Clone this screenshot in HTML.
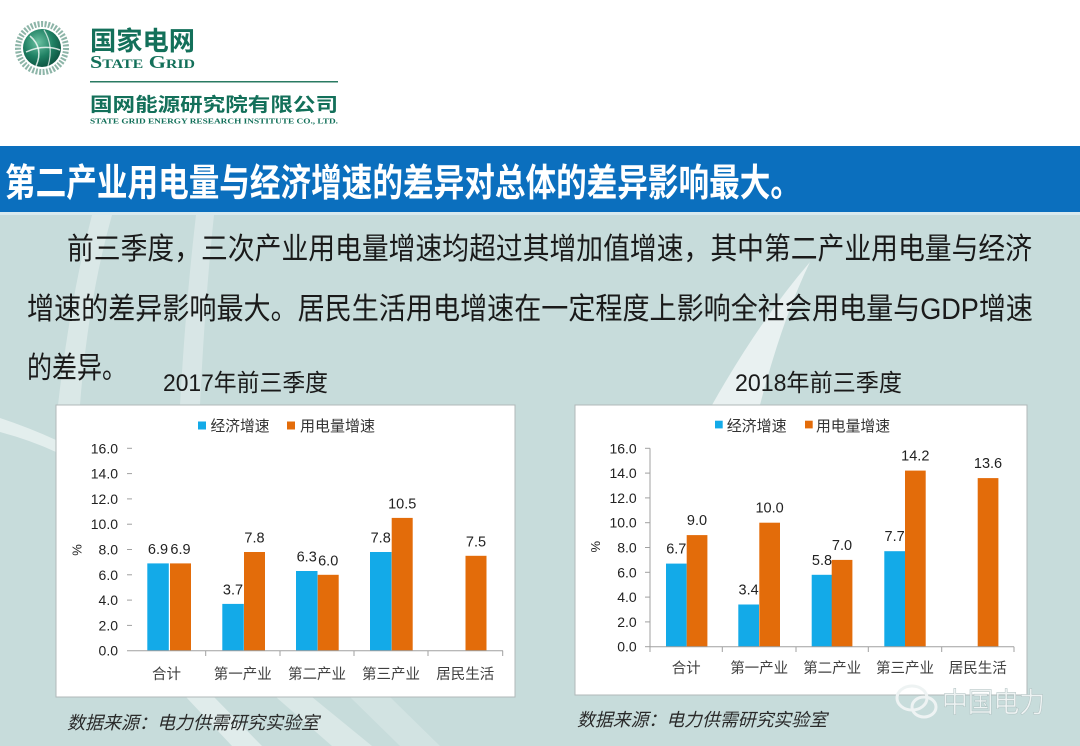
<!DOCTYPE html>
<html><head><meta charset="utf-8">
<style>
html,body{margin:0;padding:0;width:1080px;height:746px;overflow:hidden;background:#fff}
svg{display:block}
</style></head>
<body>
<svg width="1080" height="746" viewBox="0 0 1080 746" xmlns="http://www.w3.org/2000/svg" font-family="'Liberation Sans','Noto Sans CJK SC',sans-serif">
<defs>
<radialGradient id="gl" cx="40%" cy="35%" r="70%"><stop offset="0" stop-color="#6cc2a2"/><stop offset="0.55" stop-color="#1f8063"/><stop offset="1" stop-color="#0c513f"/></radialGradient>
</defs>

<!-- backgrounds -->
<rect width="1080" height="146" fill="#ffffff"/>
<rect y="146" width="1080" height="600" fill="#c7dcdb"/>
<!-- streaks -->
<path d="M92,215 Q70,300 58,405 L80,405 Q88,300 112,215 Z" fill="#fff" opacity="0.35"/>
<path d="M196,215 Q186,300 180,405 L200,405 Q205,300 214,215 Z" fill="#fff" opacity="0.3"/>
<path d="M810,262 Q760,320 712,405 L760,405 Q782,320 810,262 Z" fill="#fff" opacity="0.6"/>
<path d="M0,418 Q30,428 56,440 L56,452 Q30,440 0,432 Z" fill="#fff" opacity="0.5"/>
<path d="M186,697 L232,746 L262,746 L214,697 Z" fill="#fff" opacity="0.45"/>
<path d="M276,697 L332,746 L372,746 L312,697 Z" fill="#fff" opacity="0.35"/>
<path d="M350,697 L400,746 L440,746 L390,697 Z" fill="#fff" opacity="0.2"/>

<!-- title bar -->
<rect y="146" width="1080" height="66" fill="#0b6fbe"/>
<rect y="212" width="1080" height="3" fill="#d9eaee"/>
<text x="5" y="196" font-size="38" font-weight="bold" fill="#ffffff" textLength="796" lengthAdjust="spacingAndGlyphs">第二产业用电量与经济增速的差异对总体的差异影响最大。</text>

<!-- logo -->
<circle cx="42" cy="48" r="24" fill="none" stroke="#8db5a8" stroke-width="6" stroke-dasharray="2 1.5"/>
<circle cx="42" cy="48" r="19" fill="url(#gl)"/>
<path d="M30,36 Q44,48 36,66" fill="none" stroke="#fff" stroke-width="1.5" opacity="0.8"/>
<path d="M26,52 Q44,44 60,50" fill="none" stroke="#fff" stroke-width="1.5" opacity="0.8"/>
<path d="M44,30 Q54,46 48,66" fill="none" stroke="#fff" stroke-width="1.2" opacity="0.7"/>
<text x="90" y="50" font-size="26" font-weight="bold" fill="#13705a" textLength="105" lengthAdjust="spacingAndGlyphs">国家电网</text>
<text x="90" y="68" font-family="'Liberation Serif',serif" font-size="18" font-weight="bold" fill="#13705a" style="font-variant:small-caps" textLength="105" lengthAdjust="spacingAndGlyphs">State Grid</text>
<rect x="90" y="81" width="248" height="1.5" fill="#2a7a62"/>
<text x="90" y="111" font-size="19" font-weight="bold" fill="#13705a" textLength="248" lengthAdjust="spacingAndGlyphs">国网能源研究院有限公司</text>
<text x="90" y="123.5" font-family="'Liberation Serif',serif" font-size="7.5" font-weight="bold" fill="#13705a" textLength="248" lengthAdjust="spacingAndGlyphs">STATE GRID ENERGY RESEARCH INSTITUTE CO., LTD.</text>

<!-- paragraph -->
<g font-size="30" fill="#1a1a1a">
<text x="67" y="259" textLength="965" lengthAdjust="spacingAndGlyphs">前三季度，三次产业用电量增速均超过其增加值增速，其中第二产业用电量与经济</text>
<text x="27" y="319" textLength="1006" lengthAdjust="spacingAndGlyphs">增速的差异影响最大。居民生活用电增速在一定程度上影响全社会用电量与GDP增速</text>
<text x="27" y="378" textLength="100" lengthAdjust="spacingAndGlyphs">的差异。</text>
</g>

<!-- chart titles -->
<text x="163" y="391" font-size="24" fill="#1a1a1a" textLength="165" lengthAdjust="spacingAndGlyphs">2017年前三季度</text>
<text x="735" y="391" font-size="24" fill="#1a1a1a" textLength="167" lengthAdjust="spacingAndGlyphs">2018年前三季度</text>

<!-- ============ CHART 1 ============ -->
<rect x="56" y="405" width="459" height="292" fill="#ffffff" stroke="#b0b8b8" stroke-width="1"/>
<!-- legend -->
<rect x="198" y="421.5" width="8" height="8" fill="#13aae8"/>
<text x="210.5" y="431" font-size="15" fill="#333" textLength="59" lengthAdjust="spacingAndGlyphs">经济增速</text>
<rect x="287" y="421.5" width="8" height="8" fill="#e36c0a"/>
<text x="300" y="431" font-size="15" fill="#333" textLength="75" lengthAdjust="spacingAndGlyphs">用电量增速</text>
<!-- y ticks -->
<g font-size="14" fill="#222" text-anchor="end">
<text x="118" y="655.7">0.0</text>
<text x="118" y="630.4">2.0</text>
<text x="118" y="605.1">4.0</text>
<text x="118" y="579.8">6.0</text>
<text x="118" y="554.5">8.0</text>
<text x="118" y="529.2">10.0</text>
<text x="118" y="503.9">12.0</text>
<text x="118" y="478.6">14.0</text>
<text x="118" y="453.3">16.0</text>
</g>
<g stroke="#a0a0a0" stroke-width="1">
<line x1="127" y1="625.4" x2="132" y2="625.4"/>
<line x1="127" y1="600.1" x2="132" y2="600.1"/>
<line x1="127" y1="574.8" x2="132" y2="574.8"/>
<line x1="127" y1="549.5" x2="132" y2="549.5"/>
<line x1="127" y1="524.2" x2="132" y2="524.2"/>
<line x1="127" y1="498.9" x2="132" y2="498.9"/>
<line x1="127" y1="473.6" x2="132" y2="473.6"/>
<line x1="127" y1="448.3" x2="132" y2="448.3"/>
</g>
<text transform="translate(78,550) rotate(-90)" font-size="13" fill="#222" text-anchor="middle" dominant-baseline="middle">%</text>
<!-- bars -->
<g fill="#13aae8">
<rect x="147.3" y="563.4" width="21.5" height="87.3"/>
<rect x="222.3" y="603.9" width="21.5" height="46.8"/>
<rect x="296" y="571.0" width="21.5" height="79.7"/>
<rect x="370" y="552.0" width="21.5" height="98.7"/>
</g>
<g fill="#e36c0a">
<rect x="170" y="563.4" width="21" height="87.3"/>
<rect x="244" y="552.0" width="21" height="98.7"/>
<rect x="317.7" y="574.8" width="21" height="75.9"/>
<rect x="391.7" y="517.9" width="21" height="132.8"/>
<rect x="465.5" y="555.8" width="21" height="94.9"/>
</g>
<!-- x axis -->
<line x1="127" y1="650.7" x2="503" y2="650.7" stroke="#a0a0a0" stroke-width="1"/>
<g stroke="#a0a0a0" stroke-width="1">
<line x1="205.7" y1="650.7" x2="205.7" y2="656"/>
<line x1="280" y1="650.7" x2="280" y2="656"/>
<line x1="354" y1="650.7" x2="354" y2="656"/>
<line x1="428" y1="650.7" x2="428" y2="656"/>
<line x1="502.7" y1="650.7" x2="502.7" y2="656"/>
</g>
<!-- data labels -->
<g font-size="14.5" fill="#222" text-anchor="middle">
<text x="158" y="554">6.9</text>
<text x="180.5" y="554">6.9</text>
<text x="233" y="594.4">3.7</text>
<text x="254.5" y="542.5">7.8</text>
<text x="306.7" y="561.5">6.3</text>
<text x="328.2" y="565.3">6.0</text>
<text x="380.7" y="542.5">7.8</text>
<text x="402.2" y="508.4">10.5</text>
<text x="476" y="546.3">7.5</text>
</g>
<!-- category labels -->
<g font-size="14.5" fill="#404040" text-anchor="middle">
<text x="166.5" y="679">合计</text>
<text x="242.8" y="679">第一产业</text>
<text x="317" y="679">第二产业</text>
<text x="391" y="679">第三产业</text>
<text x="465.3" y="679">居民生活</text>
</g>

<!-- ============ CHART 2 ============ -->
<rect x="575" y="405" width="452" height="290" fill="#ffffff" stroke="#b0b8b8" stroke-width="1"/>
<rect x="715" y="420.7" width="7.7" height="7.7" fill="#13aae8"/>
<text x="726.7" y="431" font-size="15" fill="#333" textLength="60" lengthAdjust="spacingAndGlyphs">经济增速</text>
<rect x="805" y="420.7" width="7.7" height="7.7" fill="#e36c0a"/>
<text x="816" y="431" font-size="15" fill="#333" textLength="74" lengthAdjust="spacingAndGlyphs">用电量增速</text>
<g font-size="14" fill="#222" text-anchor="end">
<text x="636.7" y="651.7">0.0</text>
<text x="636.7" y="626.9">2.0</text>
<text x="636.7" y="602.1">4.0</text>
<text x="636.7" y="577.3">6.0</text>
<text x="636.7" y="552.5">8.0</text>
<text x="636.7" y="527.7">10.0</text>
<text x="636.7" y="502.9">12.0</text>
<text x="636.7" y="478.1">14.0</text>
<text x="636.7" y="453.3">16.0</text>
</g>
<g stroke="#a0a0a0" stroke-width="1">
<line x1="650" y1="448.3" x2="650" y2="652"/>
<line x1="645" y1="646.7" x2="650" y2="646.7"/>
<line x1="645" y1="621.9" x2="650" y2="621.9"/>
<line x1="645" y1="597.1" x2="650" y2="597.1"/>
<line x1="645" y1="572.3" x2="650" y2="572.3"/>
<line x1="645" y1="547.5" x2="650" y2="547.5"/>
<line x1="645" y1="522.7" x2="650" y2="522.7"/>
<line x1="645" y1="497.9" x2="650" y2="497.9"/>
<line x1="645" y1="473.1" x2="650" y2="473.1"/>
<line x1="645" y1="448.3" x2="650" y2="448.3"/>
</g>
<text transform="translate(596.7,546.7) rotate(-90)" font-size="13" fill="#222" text-anchor="middle" dominant-baseline="middle">%</text>
<g fill="#13aae8">
<rect x="666" y="563.6" width="20.7" height="83.1"/>
<rect x="738.3" y="604.5" width="20.7" height="42.2"/>
<rect x="811.7" y="574.8" width="20.7" height="71.9"/>
<rect x="884.3" y="551.2" width="20.7" height="95.5"/>
</g>
<g fill="#e36c0a">
<rect x="686.7" y="535.1" width="20.7" height="111.6"/>
<rect x="759.3" y="522.7" width="20.7" height="124"/>
<rect x="831.7" y="559.9" width="20.7" height="86.8"/>
<rect x="905" y="470.6" width="20.7" height="176.1"/>
<rect x="977.7" y="478.1" width="20.7" height="168.6"/>
</g>
<line x1="650" y1="646.7" x2="1014" y2="646.7" stroke="#a0a0a0" stroke-width="1"/>
<g stroke="#a0a0a0" stroke-width="1">
<line x1="722.3" y1="646.7" x2="722.3" y2="652"/>
<line x1="796" y1="646.7" x2="796" y2="652"/>
<line x1="868.3" y1="646.7" x2="868.3" y2="652"/>
<line x1="941.7" y1="646.7" x2="941.7" y2="652"/>
<line x1="1014" y1="646.7" x2="1014" y2="652"/>
</g>
<g font-size="14.5" fill="#222" text-anchor="middle">
<text x="676.3" y="553.6">6.7</text>
<text x="697" y="525.1">9.0</text>
<text x="748.6" y="594.5">3.4</text>
<text x="769.6" y="512.7">10.0</text>
<text x="822" y="564.8">5.8</text>
<text x="842" y="549.9">7.0</text>
<text x="894.6" y="541.2">7.7</text>
<text x="915.3" y="460.6">14.2</text>
<text x="988" y="468.1">13.6</text>
</g>
<g font-size="14.5" fill="#404040" text-anchor="middle">
<text x="686.2" y="673">合计</text>
<text x="759.2" y="673">第一产业</text>
<text x="832.2" y="673">第二产业</text>
<text x="905" y="673">第三产业</text>
<text x="977.8" y="673">居民生活</text>
</g>

<!-- sources -->
<text x="67" y="729" font-size="18" font-style="italic" fill="#2a2a2a" textLength="252" lengthAdjust="spacingAndGlyphs" transform="skewX(0)">数据来源：电力供需研究实验室</text>
<text x="577" y="726" font-size="18" font-style="italic" fill="#2a2a2a" textLength="250" lengthAdjust="spacingAndGlyphs">数据来源：电力供需研究实验室</text>

<!-- watermark -->
<ellipse cx="912" cy="698" rx="15" ry="12" fill="none" stroke="#eef3f3" stroke-width="3"/>
<ellipse cx="924" cy="707" rx="12" ry="10" fill="none" stroke="#eef3f3" stroke-width="3"/>
<text x="942" y="712" font-size="28" fill="#eef3f3" stroke="#aebfbf" stroke-width="0.5" textLength="103" lengthAdjust="spacingAndGlyphs">中国电力</text>
</svg>
</body></html>
